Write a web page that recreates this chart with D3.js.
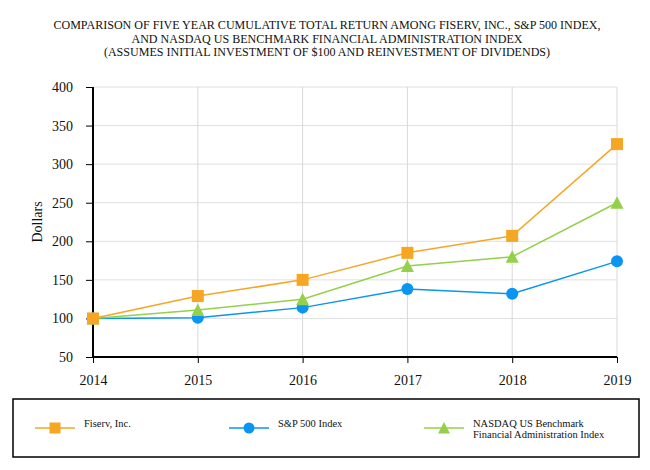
<!DOCTYPE html>
<html>
<head>
<meta charset="utf-8">
<script src="https://cdn.jsdelivr.net/npm/d3@7"></script>
<style>
body { margin: 0; background: #fff; }
svg text { font-family: "Liberation Serif", "Times New Roman", serif; fill: #111; }
</style>
</head>
<body>
<svg id="chart" width="650" height="470"></svg>
<script>
// data
var years = [2014, 2015, 2016, 2017, 2018, 2019];
var fiserv = [100, 129, 150, 185, 207, 326];
var sp500 = [100, 101, 114, 138, 132, 174];
var nasdaq = [100, 111, 125, 168, 180, 250];
var yTicks = [50, 100, 150, 200, 250, 300, 350, 400];
var titleLines = [
    "COMPARISON OF FIVE YEAR CUMULATIVE TOTAL RETURN AMONG FISERV, INC., S&P 500 INDEX,",
    "AND NASDAQ US BENCHMARK FINANCIAL ADMINISTRATION INDEX",
    "(ASSUMES INITIAL INVESTMENT OF $100 AND REINVESTMENT OF DIVIDENDS)"
];

var series = [
    {name: ["Fiserv, Inc."], values: fiserv, color: "#F5A623", shape: "square"},
    {name: ["S&P 500 Index"], values: sp500, color: "#0A95F0", shape: "circle"},
    {name: ["NASDAQ US Benchmark", "Financial Administration Index"], values: nasdaq, color: "#94D04A", shape: "triangle"}
];

var svg = d3.select("#chart");
var plotLeft = 93, plotRight = 617, plotTop = 87, plotBottom = 357;

var x = d3.scaleLinear().domain([2014, 2019]).range([plotLeft, plotRight]);
var y = d3.scaleLinear().domain([50, 400]).range([plotBottom, plotTop]);

// title
svg.append("g").selectAll("text").data(titleLines).enter().append("text")
    .attr("x", 327)
    .attr("y", function (d, i) { return 29 + i * 13.6; })
    .attr("text-anchor", "middle")
    .style("font-size", "12.05px")
    .text(function (d) { return d; });

// grid
svg.append("g").selectAll("line").data(yTicks.slice(1)).enter().append("line")
    .attr("x1", plotLeft).attr("x2", plotRight)
    .attr("y1", function (d) { return y(d); }).attr("y2", function (d) { return y(d); })
    .attr("stroke", "#e0e0e0").attr("stroke-width", 1);
svg.append("g").selectAll("line").data(years.slice(1)).enter().append("line")
    .attr("y1", plotTop).attr("y2", plotBottom)
    .attr("x1", function (d) { return x(d); }).attr("x2", function (d) { return x(d); })
    .attr("stroke", "#d8d8d8").attr("stroke-width", 1);

// axes
var yAxis = svg.append("g").attr("transform", "translate(" + plotLeft + ",0)")
    .call(d3.axisLeft(y).tickValues(yTicks).tickSize(7).tickPadding(13));
var xAxis = svg.append("g").attr("transform", "translate(0," + plotBottom + ")")
    .call(d3.axisBottom(x).tickValues(years).tickFormat(d3.format("d")).tickSize(6).tickPadding(12));
[yAxis, xAxis].forEach(function (a) {
    a.select(".domain").attr("stroke", "#000").attr("stroke-width", 2);
    a.selectAll(".tick line").attr("stroke", "#000");
    a.selectAll("text").style("font-size", "14px").style("font-family", "Liberation Serif").attr("fill", "#111");
});
yAxis.select(".domain").attr("d", "M0," + plotTop + "V" + plotBottom);
xAxis.select(".domain").attr("d", "M" + plotLeft + ",0H" + plotRight);

svg.append("text")
    .attr("transform", "translate(42," + ((plotTop + plotBottom) / 2) + ") rotate(-90)")
    .attr("text-anchor", "middle")
    .style("font-size", "14px")
    .text("Dollars");

function marker(g, shape, color, cx, cy, sz) {
    var h = sz / 2;
    if (shape === "square") {
        g.append("rect").attr("x", cx - h).attr("y", cy - h).attr("width", sz).attr("height", sz)
            .attr("fill", color);
    } else if (shape === "circle") {
        g.append("circle").attr("cx", cx).attr("cy", cy).attr("r", h).attr("fill", color);
    } else {
        g.append("path").attr("d", "M" + cx + "," + (cy - h - 0.5) + "L" + (cx + h + 0.5) + "," + (cy + h) + "L" + (cx - h - 0.5) + "," + (cy + h) + "Z")
            .attr("fill", color);
    }
}

var line = d3.line()
    .x(function (d, i) { return x(years[i]); })
    .y(function (d) { return y(d); });

// draw back to front: S&P, NASDAQ, Fiserv
[1, 2, 0].forEach(function (k) {
    var s = series[k];
    var g = svg.append("g");
    g.append("path").datum(s.values).attr("d", line)
        .attr("fill", "none").attr("stroke", s.color).attr("stroke-width", 1.5);
    s.values.forEach(function (v, i) {
        marker(g, s.shape, s.color, x(years[i]), y(v), 12);
    });
});

// legend
svg.append("rect").attr("x", 13).attr("y", 399).attr("width", 626).attr("height", 58)
    .attr("fill", "none").attr("stroke", "#000").attr("stroke-width", 1.5);
var legX = [55, 249, 444];
series.forEach(function (s, k) {
    var g = svg.append("g");
    g.append("line").attr("x1", legX[k] - 20).attr("x2", legX[k] + 20)
        .attr("y1", 428).attr("y2", 428).attr("stroke", s.color).attr("stroke-width", 1.5);
    marker(g, s.shape, s.color, legX[k], 428, 11);
    s.name.forEach(function (t, j) {
        g.append("text").attr("x", legX[k] + 29).attr("y", 426.5 + j * 11.5)
            .style("font-size", "10.5px").text(t);
    });
});
</script>
</body>
</html>
